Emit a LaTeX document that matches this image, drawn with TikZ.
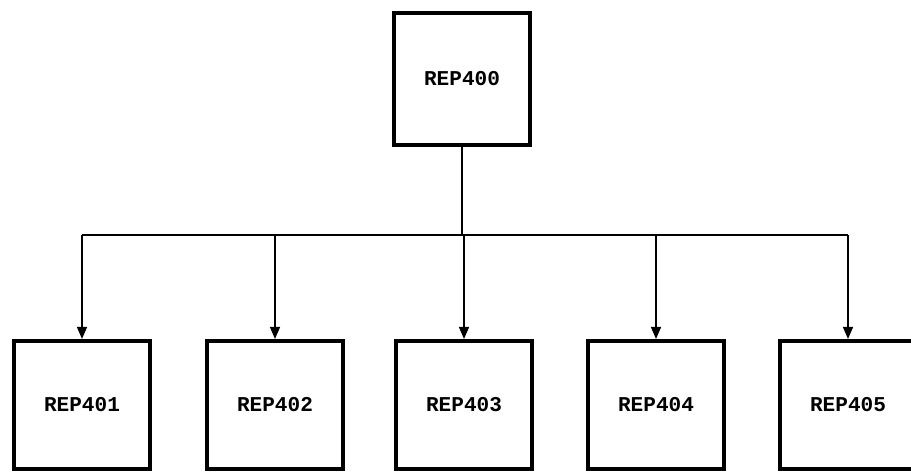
\documentclass[tikz,border=0pt]{standalone}
\usepackage{fontspec}
\setmonofont{Liberation Mono}
\usetikzlibrary{arrows.meta}
\tikzset{
  arr/.style={-{Triangle[length=3.6mm,width=3mm]}, line width=1.2pt, draw=black},
  wire/.style={line width=1.2pt, draw=black},
  blk/.style={draw=black, line width=3.2pt, minimum width=41mm, minimum height=38.5mm,
    inner sep=0pt, font=\ttfamily\bfseries\fontsize{18}{21}\selectfont}
}
\begin{document}
\begin{tikzpicture}[x=0.3mm, y=-0.3mm]
\clip (0,0) rectangle (911,473);
\fill[white] (0,0) rectangle (911,473);
\node[blk, minimum height=39.5mm] (top) at (462,79) {REP400};
\node[blk] (b1) at (82,405) {REP401};
\node[blk] (b2) at (275,405) {REP402};
\node[blk] (b3) at (464,405) {REP403};
\node[blk] (b4) at (656,405) {REP404};
\node[blk] (b5) at (848,405) {REP405};
\coordinate (bus) at (462,235);
\draw[wire] (top.south) -- (top.south |- bus);
\draw[wire] (b1.north |- bus) -- (b5.north |- bus);
\draw[arr] (b1.north |- bus) -- (b1.north);
\draw[arr] (b2.north |- bus) -- (b2.north);
\draw[arr] (b3.north |- bus) -- (b3.north);
\draw[arr] (b4.north |- bus) -- (b4.north);
\draw[arr] (b5.north |- bus) -- (b5.north);
\end{tikzpicture}
\end{document}
